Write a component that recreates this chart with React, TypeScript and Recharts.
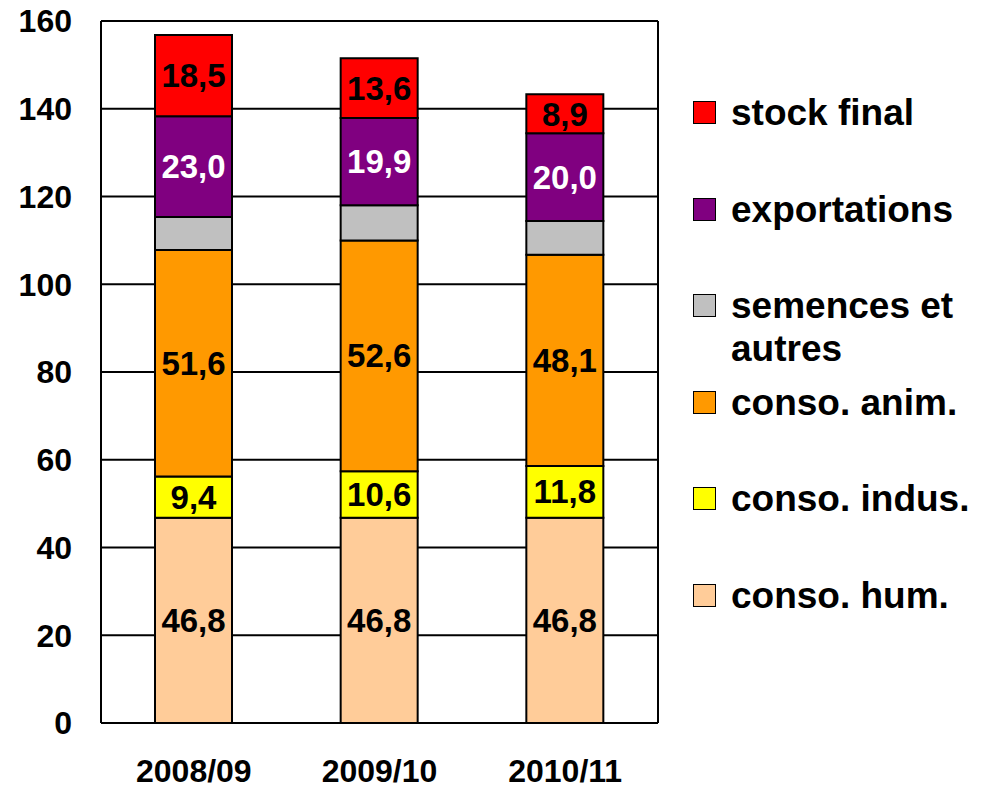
import { Bar, BarChart, CartesianGrid, LabelList, XAxis, YAxis } from "recharts"

const campaigns = ["2008/09", "2009/10", "2010/11"]
const consoHum = [46.8, 46.8, 46.8]
const consoIndus = [9.4, 10.6, 11.8]
const consoAnim = [51.6, 52.6, 48.1]
const semences = [7.5, 8.0, 7.7]
const exportations = [23.0, 19.9, 20.0]
const stockFinal = [18.5, 13.6, 8.9]
const yTicks = [0, 20, 40, 60, 80, 100, 120, 140, 160]

const series = [
  { key: "hum", name: "conso. hum.", color: "#FFCC99", values: consoHum, label: "#000000" },
  { key: "indus", name: "conso. indus.", color: "#FFFF00", values: consoIndus, label: "#000000" },
  { key: "anim", name: "conso. anim.", color: "#FF9900", values: consoAnim, label: "#000000" },
  { key: "sem", name: "semences et autres", color: "#C0C0C0", values: semences, label: null },
  { key: "exp", name: "exportations", color: "#800080", values: exportations, label: "#FFFFFF" },
  { key: "stock", name: "stock final", color: "#FF0000", values: stockFinal, label: "#000000" },
]

const data = campaigns.map((c, i) => {
  const row: Record<string, string | number> = { name: c }
  series.forEach((s) => {
    row[s.key] = s.values[i]
  })
  return row
})

const font = "'Liberation Sans', Arial, sans-serif"
const fmt = (v: any) => Number(v).toFixed(1).replace(".", ",")

function Legend() {
  const items = [...series].reverse()
  return (
    <div style={{ position: "absolute", left: 693, top: 0, width: 296, fontFamily: font }}>
      {items.map((s, i) => (
        <div
          key={s.key}
          style={{ position: "absolute", top: 91 + i * 96.6, left: 0, display: "flex", alignItems: "flex-start" }}
        >
          <div
            style={{
              width: 21,
              height: 21,
              marginTop: 10,
              background: s.color,
              border: "1.5px solid #000",
              flexShrink: 0,
            }}
          />
          <div
            style={{
              marginLeft: 15,
              width: 256,
              fontSize: 37,
              fontWeight: "bold",
              lineHeight: "43px",
              color: "#000",
            }}
          >
            {s.name}
          </div>
        </div>
      ))}
    </div>
  )
}

export default function App() {
  return (
    <div style={{ position: "absolute", left: 0, top: 0, width: 989, height: 789, background: "#fff" }}>
      <BarChart
        width={989}
        height={789}
        data={data}
        margin={{ top: 21, right: 329, bottom: 0, left: 0 }}
        barSize={77}
      >
        <CartesianGrid yAxisId="left" vertical={false} stroke="#000" strokeWidth={2} />
        <XAxis
          dataKey="name"
          height={66}
          axisLine={{ stroke: "#000", strokeWidth: 2 }}
          tickLine={false}
          tickMargin={30}
          tick={{ fill: "#000", fontSize: 32, fontWeight: "bold", fontFamily: font }}
        />
        <YAxis
          yAxisId="left"
          width={101}
          domain={[0, 160]}
          ticks={yTicks}
          axisLine={{ stroke: "#000", strokeWidth: 2 }}
          tickLine={false}
          tickMargin={23}
          tick={{ fill: "#000", fontSize: 32, fontWeight: "bold", fontFamily: font }}
        />
        <YAxis
          yAxisId="right"
          orientation="right"
          width={2}
          domain={[0, 160]}
          ticks={yTicks}
          tick={false}
          tickLine={false}
          axisLine={{ stroke: "#000", strokeWidth: 2 }}
        />
        {series.map((s) => (
          <Bar
            key={s.key}
            yAxisId="left"
            dataKey={s.key}
            name={s.name}
            stackId="a"
            fill={s.color}
            stroke="#000"
            strokeWidth={2}
            isAnimationActive={false}
          >
            {s.label && (
              <LabelList
                dataKey={s.key}
                position="center"
                formatter={fmt}
                fill={s.label}
                stroke="none"
                style={{ fontSize: 33, fontWeight: "bold", fontFamily: font, fill: s.label }}
              />
            )}
          </Bar>
        ))}
      </BarChart>
      <Legend />
    </div>
  )
}
